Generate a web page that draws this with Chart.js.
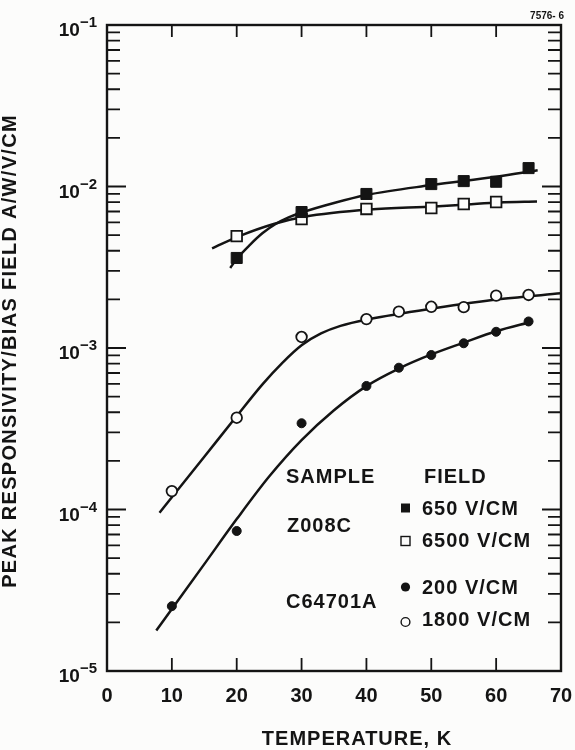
<!DOCTYPE html>
<html>
<head>
<meta charset="utf-8">
<script src="https://cdn.jsdelivr.net/npm/chart.js@4.4.1/dist/chart.umd.min.js"></script>
<style>
    html, body { margin: 0; padding: 0; background: #fcfcfb; }
    #wrap { width: 575px; height: 750px; }
</style>
</head>
<body>
<div id="wrap"><canvas id="respChart" width="575" height="750"></canvas></div>
<script>
// Peak responsivity / bias field (A/W/V/CM) against temperature (K).

// Sample Z008C, 650 V/CM (filled squares)
const temp650 = [20, 30, 40, 50, 55, 60, 65];
const resp650 = [3.61e-3, 6.95e-3, 8.99e-3, 1.035e-2, 1.08e-2, 1.07e-2, 1.30e-2];
// Sample Z008C, 6500 V/CM (open squares)
const temp6500 = [20, 30, 40, 50, 55, 60];
const resp6500 = [4.93e-3, 6.29e-3, 7.26e-3, 7.36e-3, 7.79e-3, 8.02e-3];
// Sample C64701A, 200 V/CM (filled circles)
const temp200 = [10, 20, 30, 40, 45, 50, 55, 60, 65];
const resp200 = [2.52e-5, 7.36e-5, 3.42e-4, 5.82e-4, 7.55e-4, 9.05e-4, 1.07e-3, 1.26e-3, 1.46e-3];
// Sample C64701A, 1800 V/CM (open circles)
const temp1800 = [10, 20, 30, 40, 45, 50, 55, 60, 65];
const resp1800 = [1.30e-4, 3.70e-4, 1.17e-3, 1.51e-3, 1.68e-3, 1.80e-3, 1.79e-3, 2.11e-3, 2.13e-3];

// Hand drawn fit curves.
const fitTemp650 = [19, 20, 22, 24, 26, 28, 30, 35, 40, 50, 60, 66.4];
const fitResp650 = [3.13e-3, 3.56e-3, 4.34e-3, 5.15e-3, 5.86e-3, 6.43e-3, 6.90e-3, 7.91e-3, 8.86e-3, 1.02e-2, 1.15e-2, 1.26e-2];
const fitTemp6500 = [16.2, 20.4, 25.7, 30.4, 40.5, 50.5, 55.5, 60.5, 66.3];
const fitResp6500 = [4.14e-3, 4.93e-3, 5.86e-3, 6.50e-3, 7.21e-3, 7.52e-3, 7.74e-3, 7.96e-3, 8.07e-3];
const fitTemp200 = [7.6, 10, 15, 20, 25, 30, 35, 40, 45, 50, 55, 60, 65.5];
const fitResp200 = [1.78e-5, 2.42e-5, 4.59e-5, 8.72e-5, 1.60e-4, 2.69e-4, 4.12e-4, 5.81e-4, 7.46e-4, 9.12e-4, 1.08e-3, 1.27e-3, 1.455e-3];
const fitTemp1800 = [8.1, 10, 15, 20, 24, 27, 30, 33, 36, 40.5, 50.4, 60.7, 70];
const fitResp1800 = [9.55e-5, 1.19e-4, 2.12e-4, 3.79e-4, 5.98e-4, 8.07e-4, 1.04e-3, 1.23e-3, 1.37e-3, 1.51e-3, 1.76e-3, 2.01e-3, 2.18e-3];

// Axis ticks
const xTicks = [0, 10, 20, 30, 40, 50, 60, 70];
const yMajorTicks = [1e-1, 1e-2, 1e-3, 1e-4, 1e-5];
const yMinorSteps = [2, 3, 4, 5, 6, 7, 8, 9];

// Legend text
const sampleNames = ['Z008C', 'C64701A'];
const fieldLabels = ['650 V/CM', '6500 V/CM', '200 V/CM', '1800 V/CM'];

const INK = '#141414';
const PAPER = '#fcfcfb';
const FONT = '"Liberation Sans", Arial, Helvetica, sans-serif';

const toPoints = (xs, ys) => xs.map((x, i) => ({ x: x, y: ys[i] }));

const curve = (xs, ys) => ({
    data: toPoints(xs, ys),
    showLine: true,
    borderColor: INK,
    borderWidth: 2.5,
    pointRadius: 0,
    cubicInterpolationMode: 'monotone',
    order: 2
});

const markers = (xs, ys, style, radius, filled) => ({
    data: toPoints(xs, ys),
    showLine: false,
    pointStyle: style,
    pointRadius: radius,
    pointBackgroundColor: filled ? INK : PAPER,
    pointBorderColor: INK,
    pointBorderWidth: filled ? 1 : 1.8,
    order: 1
});

// Frame, inward ticks, tick labels, titles and the hand made legend.
const paperFrame = {
    id: 'paperFrame',
    beforeDraw(chart) {
        const { ctx, width, height } = chart;
        ctx.save();
        ctx.fillStyle = PAPER;
        ctx.fillRect(0, 0, width, height);
        ctx.restore();
    },
    afterDraw(chart) {
        const { ctx, chartArea: area, scales } = chart;
        const xs = scales.x;
        const ys = scales.y;

        ctx.save();
        ctx.strokeStyle = INK;
        ctx.fillStyle = INK;

        // Box
        ctx.lineWidth = 2.4;
        ctx.strokeRect(area.left, area.top, area.right - area.left, area.bottom - area.top);

        // X ticks on bottom and top, pointing in
        ctx.lineWidth = 1.8;
        ctx.beginPath();
        xTicks.slice(1, -1).forEach(t => {
            const px = xs.getPixelForValue(t);
            ctx.moveTo(px, area.bottom);
            ctx.lineTo(px, area.bottom - 13);
            ctx.moveTo(px, area.top);
            ctx.lineTo(px, area.top + 12);
        });

        // Y ticks on both sides, decades longer
        yMajorTicks.forEach(v => {
            const py = ys.getPixelForValue(v);
            ctx.moveTo(area.left, py);
            ctx.lineTo(area.left + 19, py);
            ctx.moveTo(area.right, py);
            ctx.lineTo(area.right - 19, py);
            if (v < 1e-1) {
                yMinorSteps.forEach(m => {
                    const pm = ys.getPixelForValue(v * m);
                    ctx.moveTo(area.left, pm);
                    ctx.lineTo(area.left + 13, pm);
                    ctx.moveTo(area.right, pm);
                    ctx.lineTo(area.right - 13, pm);
                });
            }
        });
        ctx.stroke();

        // X tick labels
        ctx.font = 'bold 20px ' + FONT;
        ctx.textAlign = 'center';
        ctx.textBaseline = 'alphabetic';
        xTicks.forEach(t => {
            ctx.fillText(String(t), xs.getPixelForValue(t), 702);
        });

        // Y tick labels, 10 with a raised exponent
        yMajorTicks.forEach(v => {
            const py = ys.getPixelForValue(v);
            const exp = '\u2212' + String(Math.round(-Math.log10(v)));
            ctx.font = 'bold 15px ' + FONT;
            const expW = ctx.measureText(exp).width;
            const expX = 97 - expW;
            ctx.textAlign = 'left';
            ctx.fillText(exp, expX, py + 2);
            ctx.font = 'bold 19px ' + FONT;
            ctx.textAlign = 'right';
            ctx.fillText('10', expX, py + 11);
        });

        // Axis titles
        ctx.letterSpacing = '1px';
        ctx.font = 'bold 20px ' + FONT;
        ctx.textAlign = 'center';
        ctx.fillText('TEMPERATURE, K', 357, 745);

        ctx.save();
        ctx.letterSpacing = '1.3px';
        ctx.translate(16, 351);
        ctx.rotate(-Math.PI / 2);
        ctx.fillText('PEAK RESPONSIVITY/BIAS FIELD A/W/V/CM', 0, 0);
        ctx.restore();

        // Figure number
        ctx.letterSpacing = '0px';
        ctx.font = 'bold 10px ' + FONT;
        ctx.textAlign = 'right';
        ctx.fillText('7576- 6', 564, 19);

        // Legend
        ctx.letterSpacing = '1px';
        ctx.font = 'bold 20px ' + FONT;
        ctx.textAlign = 'left';
        ctx.fillText('SAMPLE', 286, 483);
        ctx.fillText('FIELD', 424, 483);
        ctx.fillText(sampleNames[0], 287, 532);
        ctx.fillText(sampleNames[1], 286, 608);

        const rows = [515, 547, 594, 626];
        const keyY = [508, 541, 587, 622];
        fieldLabels.forEach((label, i) => {
            ctx.fillText(label, 422, rows[i]);
        });

        ctx.lineWidth = 1.4;
        ctx.fillRect(401, keyY[0] - 4.5, 9, 9);
        ctx.fillStyle = PAPER;
        ctx.fillRect(401, keyY[1] - 4.5, 9, 9);
        ctx.strokeRect(401, keyY[1] - 4.5, 9, 9);
        ctx.fillStyle = INK;
        ctx.beginPath();
        ctx.arc(405.5, keyY[2], 4.6, 0, 2 * Math.PI);
        ctx.fill();
        ctx.fillStyle = PAPER;
        ctx.beginPath();
        ctx.arc(405.5, keyY[3], 4.4, 0, 2 * Math.PI);
        ctx.fill();
        ctx.stroke();

        ctx.restore();
    }
};

new Chart(document.getElementById('respChart').getContext('2d'), {
    type: 'scatter',
    data: {
        datasets: [
            markers(temp650, resp650, 'rect', 7.8, true),
            markers(temp6500, resp6500, 'rect', 7.5, false),
            markers(temp200, resp200, 'circle', 4.5, true),
            markers(temp1800, resp1800, 'circle', 5.3, false),
            curve(fitTemp650, fitResp650),
            curve(fitTemp6500, fitResp6500),
            curve(fitTemp200, fitResp200),
            curve(fitTemp1800, fitResp1800)
        ]
    },
    options: {
        responsive: false,
        animation: false,
        events: [],
        layout: {
            padding: { left: 107, right: 14, top: 25, bottom: 79 }
        },
        plugins: {
            legend: { display: false },
            tooltip: { enabled: false },
            title: { display: false }
        },
        scales: {
            x: { type: 'linear', min: 0, max: 70, display: false },
            y: { type: 'logarithmic', min: 1e-5, max: 1e-1, display: false }
        }
    },
    plugins: [paperFrame]
});
</script>
</body>
</html>
